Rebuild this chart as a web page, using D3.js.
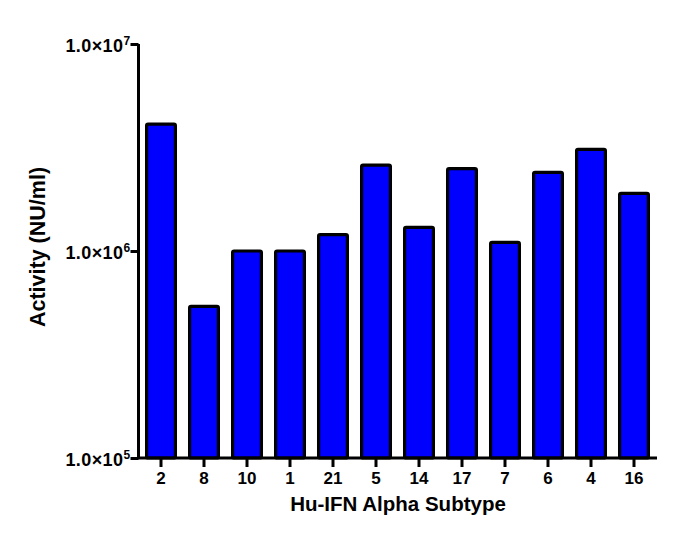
<!DOCTYPE html>
<html><head><meta charset="utf-8">
<script src="https://cdn.jsdelivr.net/npm/d3@7"></script>
<style>body{margin:0;background:#fff;}svg{display:block;font-family:"Liberation Sans",Arial,sans-serif;}</style>
</head><body>
<script>
const subtypes = ["2","8","10","1","21","5","14","17","7","6","4","16"];
const activity = [4.1e6,5.4e5,1.0e6,1.0e6,1.2e6,2.6e6,1.3e6,2.5e6,1.1e6,2.4e6,3.1e6,1.9e6];
const yTicks = [1e5,1e6,1e7];
const yTickExp = ["5","6","7"];

const W=690,H=550;
const svg=d3.select("body").append("svg").attr("width",W).attr("height",H);
const x=d3.scaleBand().domain(subtypes).range([139.5,655.5]).paddingInner(0.33).paddingOuter(0.165);
const y=d3.scaleLog().domain([1e5,1e7]).range([458,44]);

svg.append("g").selectAll("rect").data(subtypes).join("rect")
  .attr("x",d=>x(d)).attr("width",x.bandwidth())
  .attr("y",(d,i)=>y(activity[i])).attr("height",(d,i)=>458-y(activity[i]))
  .attr("fill","#0000ff").attr("stroke","#000").attr("stroke-width",3.2)
  .attr("rx",1.5);

// y axis
const ya=svg.append("g").attr("transform","translate(138.5,0)")
  .call(d3.axisLeft(y).tickValues(yTicks).tickSize(8).tickFormat(""));
ya.select(".domain").attr("stroke-width",3).attr("d","M0,458V44H0");
ya.selectAll(".tick line").attr("stroke-width",3);
ya.selectAll(".tick").each(function(d,i){
  const t=d3.select(this).append("text").attr("x",-8).attr("y",7)
    .attr("text-anchor","end").attr("fill","#000").attr("font-weight","bold").attr("font-size",18)
    .attr("letter-spacing",0.4);
  t.append("tspan").text("1.0×10");
  t.append("tspan").attr("dy",-7).attr("font-size",12).text(yTickExp[i]);
});

// x axis
const xa=svg.append("g").attr("transform","translate(0,458)")
  .call(d3.axisBottom(x).tickSize(9).tickSizeOuter(0));
xa.select(".domain").attr("stroke-width",3).attr("d","M137,0H657");
xa.selectAll(".tick line").attr("stroke-width",3);
xa.selectAll(".tick text").attr("font-size",17).attr("font-weight","bold")
  .attr("font-family","'Liberation Sans',Arial,sans-serif").attr("fill","#000")
  .attr("y",26).attr("dy",null);

svg.append("text").attr("x",398).attr("y",511).attr("text-anchor","middle")
  .attr("font-weight","bold").attr("font-size",20.5).text("Hu-IFN Alpha Subtype");
svg.append("text").attr("transform","translate(45,247) rotate(-90)").attr("text-anchor","middle")
  .attr("font-weight","bold").attr("font-size",21.5).text("Activity (NU/ml)");
</script>
</body></html>
